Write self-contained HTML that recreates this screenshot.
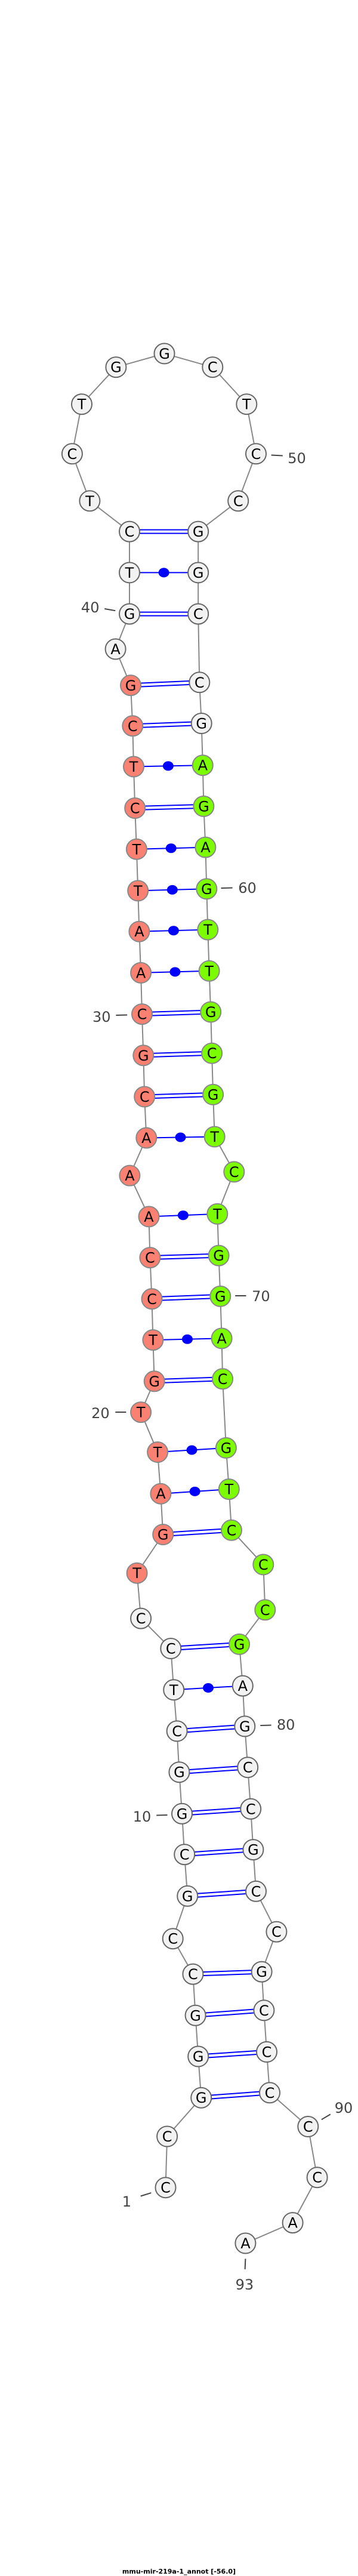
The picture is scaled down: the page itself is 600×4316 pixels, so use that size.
<!DOCTYPE html>
<html><head><meta charset="utf-8">
<style>
html,body{margin:0;padding:0;background:#fff;}
svg{display:block;}
.w{fill:#f2f2f2;stroke:#666;stroke-width:2;}
.r{fill:#fa8072;stroke:#888;stroke-width:2;}
.g{fill:#7cfc00;stroke:#888;stroke-width:2;}
.n text{font-family:"DejaVu Sans","Liberation Sans",sans-serif;font-size:24px;text-anchor:middle;fill:#000;}
.lab{font-family:"DejaVu Sans","Liberation Sans",sans-serif;font-size:24px;fill:#444;text-anchor:middle;}
.tk{stroke:#444;stroke-width:2;}
.d1{stroke:#0000ff;stroke-width:8;}
.d2{stroke:#fff;stroke-width:4;}
.s{stroke:#0000ff;stroke-width:2;}
</style></head><body>
<svg width="600" height="4316" viewBox="0 0 600 4316" xmlns="http://www.w3.org/2000/svg">
<rect width="600" height="4316" fill="#fff"/>
<polyline fill="none" stroke="#888" stroke-width="2" points="277.5,3665.2 280.1,3579.5 337.2,3514.7 332.2,3445.5 327.6,3376.8 323.4,3307.6 289.7,3248.2 314.2,3176.8 309.2,3107.1 305,3038.8 300.4,2969.2 296.6,2900.4 291.2,2831.3 286.3,2762 236.1,2711.6 229.6,2635.7 273.2,2571 269.4,2502.7 264.1,2433 236.1,2366.1 258.7,2314.3 256.4,2245.1 254.5,2176.3 251.4,2107.1 249.5,2038.4 217.4,1969.6 245.3,1906.5 242.2,1837.5 240.3,1768.3 238,1699.1 236.1,1629.9 233.4,1560.7 231.2,1492.4 228.9,1422.8 226.2,1354 224,1284.5 222.3,1216.3 219,1148.3 193.6,1087.5 217,1028.6 217,959.4 217,890.6 150.4,839.3 120.9,760.3 137,677.2 194.4,615.2 275.5,592.4 356.3,615.2 413.3,677.2 429,760.3 399.2,839.3 332.2,890.6 332.2,959.4 332.2,1028.6 334.3,1143.3 337.7,1212 339.8,1282.2 341.4,1350.9 344.4,1419.6 346.3,1489.3 348.3,1557.6 350.6,1626.8 353.2,1695.5 355.1,1764.7 357.1,1833.9 359.7,1904.5 392.3,1963.4 364.3,2033.9 366.6,2103.6 369.3,2171.9 371.6,2242.4 373.1,2310.3 378.9,2425.9 383.8,2495.1 388,2563.8 441.3,2621.4 444.3,2697.3 401.1,2754.9 406.8,2824.6 410.3,2892.4 415.2,2961.2 420.2,3030.8 424.4,3099.1 429,3168.8 463.4,3236.6 438.6,3303.6 442.4,3368.3 447,3437.9 452,3506.3 516.3,3563 531.6,3648.2 490.6,3724.1 411.4,3758.5"/>
<!-- double pairs -->
<g class="d1">
<line x1="217" y1="890.6" x2="332.2" y2="890.6"/>
<line x1="217" y1="1028.6" x2="332.2" y2="1028.6"/>
<line x1="219" y1="1148.3" x2="334.3" y2="1143.3"/>
<line x1="222.3" y1="1216.3" x2="337.7" y2="1212"/>
<line x1="226.2" y1="1354" x2="341.4" y2="1350.9"/>
<line x1="238" y1="1699.1" x2="353.2" y2="1695.5"/>
<line x1="240.3" y1="1768.3" x2="355.1" y2="1764.7"/>
<line x1="242.2" y1="1837.5" x2="357.1" y2="1833.9"/>
<line x1="251.4" y1="2107.1" x2="366.6" y2="2103.6"/>
<line x1="254.5" y1="2176.3" x2="369.3" y2="2171.9"/>
<line x1="258.7" y1="2314.3" x2="373.1" y2="2310.3"/>
<line x1="273.2" y1="2571" x2="388" y2="2563.8"/>
<line x1="286.3" y1="2762" x2="401.1" y2="2754.9"/>
<line x1="296.6" y1="2900.4" x2="410.3" y2="2892.4"/>
<line x1="300.4" y1="2969.2" x2="415.2" y2="2961.2"/>
<line x1="305" y1="3038.8" x2="420.2" y2="3030.8"/>
<line x1="309.2" y1="3107.1" x2="424.4" y2="3099.1"/>
<line x1="314.2" y1="3176.8" x2="429" y2="3168.8"/>
<line x1="323.4" y1="3307.6" x2="438.6" y2="3303.6"/>
<line x1="327.6" y1="3376.8" x2="442.4" y2="3368.3"/>
<line x1="332.2" y1="3445.5" x2="447" y2="3437.9"/>
<line x1="337.2" y1="3514.7" x2="452" y2="3506.3"/>
</g>
<g class="d2">
<line x1="217" y1="890.6" x2="332.2" y2="890.6"/>
<line x1="217" y1="1028.6" x2="332.2" y2="1028.6"/>
<line x1="219" y1="1148.3" x2="334.3" y2="1143.3"/>
<line x1="222.3" y1="1216.3" x2="337.7" y2="1212"/>
<line x1="226.2" y1="1354" x2="341.4" y2="1350.9"/>
<line x1="238" y1="1699.1" x2="353.2" y2="1695.5"/>
<line x1="240.3" y1="1768.3" x2="355.1" y2="1764.7"/>
<line x1="242.2" y1="1837.5" x2="357.1" y2="1833.9"/>
<line x1="251.4" y1="2107.1" x2="366.6" y2="2103.6"/>
<line x1="254.5" y1="2176.3" x2="369.3" y2="2171.9"/>
<line x1="258.7" y1="2314.3" x2="373.1" y2="2310.3"/>
<line x1="273.2" y1="2571" x2="388" y2="2563.8"/>
<line x1="286.3" y1="2762" x2="401.1" y2="2754.9"/>
<line x1="296.6" y1="2900.4" x2="410.3" y2="2892.4"/>
<line x1="300.4" y1="2969.2" x2="415.2" y2="2961.2"/>
<line x1="305" y1="3038.8" x2="420.2" y2="3030.8"/>
<line x1="309.2" y1="3107.1" x2="424.4" y2="3099.1"/>
<line x1="314.2" y1="3176.8" x2="429" y2="3168.8"/>
<line x1="323.4" y1="3307.6" x2="438.6" y2="3303.6"/>
<line x1="327.6" y1="3376.8" x2="442.4" y2="3368.3"/>
<line x1="332.2" y1="3445.5" x2="447" y2="3437.9"/>
<line x1="337.2" y1="3514.7" x2="452" y2="3506.3"/>
</g>
<!-- dot pairs -->
<g class="s">
<line x1="217" y1="959.4" x2="332.2" y2="959.4"/>
<line x1="224" y1="1284.5" x2="339.8" y2="1282.2"/>
<line x1="228.9" y1="1422.8" x2="344.4" y2="1419.6"/>
<line x1="231.2" y1="1492.4" x2="346.3" y2="1489.3"/>
<line x1="233.4" y1="1560.7" x2="348.3" y2="1557.6"/>
<line x1="236.1" y1="1629.9" x2="350.6" y2="1626.8"/>
<line x1="245.3" y1="1906.5" x2="359.7" y2="1904.5"/>
<line x1="249.5" y1="2038.4" x2="364.3" y2="2033.9"/>
<line x1="256.4" y1="2245.1" x2="371.6" y2="2242.4"/>
<line x1="264.1" y1="2433" x2="378.9" y2="2425.9"/>
<line x1="269.4" y1="2502.7" x2="383.8" y2="2495.1"/>
<line x1="291.2" y1="2831.3" x2="406.8" y2="2824.6"/>
</g>
<g fill="#0000ff">
<ellipse cx="274.6" cy="959.4" rx="9" ry="8"/>
<ellipse cx="281.9" cy="1283.4" rx="9" ry="8"/>
<ellipse cx="286.7" cy="1421.2" rx="9" ry="8"/>
<ellipse cx="288.8" cy="1490.9" rx="9" ry="8"/>
<ellipse cx="290.9" cy="1559.2" rx="9" ry="8"/>
<ellipse cx="293.4" cy="1628.4" rx="9" ry="8"/>
<ellipse cx="302.5" cy="1905.5" rx="9" ry="8"/>
<ellipse cx="306.9" cy="2036.2" rx="9" ry="8"/>
<ellipse cx="314" cy="2243.8" rx="9" ry="8"/>
<ellipse cx="321.5" cy="2429.5" rx="9" ry="8"/>
<ellipse cx="326.6" cy="2498.9" rx="9" ry="8"/>
<ellipse cx="349" cy="2828" rx="9" ry="8"/>
</g>
<!-- nodes -->
<g class="n">
<g transform="translate(277.5,3665.2)"><circle class="w" r="17"/><text y="8.5">C</text></g>
<g transform="translate(280.1,3579.5)"><circle class="w" r="17"/><text y="8.5">C</text></g>
<g transform="translate(337.2,3514.7)"><circle class="w" r="17"/><text y="8.5">G</text></g>
<g transform="translate(332.2,3445.5)"><circle class="w" r="17"/><text y="8.5">G</text></g>
<g transform="translate(327.6,3376.8)"><circle class="w" r="17"/><text y="8.5">G</text></g>
<g transform="translate(323.4,3307.6)"><circle class="w" r="17"/><text y="8.5">C</text></g>
<g transform="translate(289.7,3248.2)"><circle class="w" r="17"/><text y="8.5">C</text></g>
<g transform="translate(314.2,3176.8)"><circle class="w" r="17"/><text y="8.5">G</text></g>
<g transform="translate(309.2,3107.1)"><circle class="w" r="17"/><text y="8.5">C</text></g>
<g transform="translate(305,3038.8)"><circle class="w" r="17"/><text y="8.5">G</text></g>
<g transform="translate(300.4,2969.2)"><circle class="w" r="17"/><text y="8.5">G</text></g>
<g transform="translate(296.6,2900.4)"><circle class="w" r="17"/><text y="8.5">C</text></g>
<g transform="translate(291.2,2831.3)"><circle class="w" r="17"/><text y="8.5">T</text></g>
<g transform="translate(286.3,2762)"><circle class="w" r="17"/><text y="8.5">C</text></g>
<g transform="translate(236.1,2711.6)"><circle class="w" r="17"/><text y="8.5">C</text></g>
<g transform="translate(229.6,2635.7)"><circle class="r" r="17"/><text y="8.5">T</text></g>
<g transform="translate(273.2,2571)"><circle class="r" r="17"/><text y="8.5">G</text></g>
<g transform="translate(269.4,2502.7)"><circle class="r" r="17"/><text y="8.5">A</text></g>
<g transform="translate(264.1,2433)"><circle class="r" r="17"/><text y="8.5">T</text></g>
<g transform="translate(236.1,2366.1)"><circle class="r" r="17"/><text y="8.5">T</text></g>
<g transform="translate(258.7,2314.3)"><circle class="r" r="17"/><text y="8.5">G</text></g>
<g transform="translate(256.4,2245.1)"><circle class="r" r="17"/><text y="8.5">T</text></g>
<g transform="translate(254.5,2176.3)"><circle class="r" r="17"/><text y="8.5">C</text></g>
<g transform="translate(251.4,2107.1)"><circle class="r" r="17"/><text y="8.5">C</text></g>
<g transform="translate(249.5,2038.4)"><circle class="r" r="17"/><text y="8.5">A</text></g>
<g transform="translate(217.4,1969.6)"><circle class="r" r="17"/><text y="8.5">A</text></g>
<g transform="translate(245.3,1906.5)"><circle class="r" r="17"/><text y="8.5">A</text></g>
<g transform="translate(242.2,1837.5)"><circle class="r" r="17"/><text y="8.5">C</text></g>
<g transform="translate(240.3,1768.3)"><circle class="r" r="17"/><text y="8.5">G</text></g>
<g transform="translate(238,1699.1)"><circle class="r" r="17"/><text y="8.5">C</text></g>
<g transform="translate(236.1,1629.9)"><circle class="r" r="17"/><text y="8.5">A</text></g>
<g transform="translate(233.4,1560.7)"><circle class="r" r="17"/><text y="8.5">A</text></g>
<g transform="translate(231.2,1492.4)"><circle class="r" r="17"/><text y="8.5">T</text></g>
<g transform="translate(228.9,1422.8)"><circle class="r" r="17"/><text y="8.5">T</text></g>
<g transform="translate(226.2,1354)"><circle class="r" r="17"/><text y="8.5">C</text></g>
<g transform="translate(224,1284.5)"><circle class="r" r="17"/><text y="8.5">T</text></g>
<g transform="translate(222.3,1216.3)"><circle class="r" r="17"/><text y="8.5">C</text></g>
<g transform="translate(219,1148.3)"><circle class="r" r="17"/><text y="8.5">G</text></g>
<g transform="translate(193.6,1087.5)"><circle class="w" r="17"/><text y="8.5">A</text></g>
<g transform="translate(217,1028.6)"><circle class="w" r="17"/><text y="8.5">G</text></g>
<g transform="translate(217,959.4)"><circle class="w" r="17"/><text y="8.5">T</text></g>
<g transform="translate(217,890.6)"><circle class="w" r="17"/><text y="8.5">C</text></g>
<g transform="translate(150.4,839.3)"><circle class="w" r="17"/><text y="8.5">T</text></g>
<g transform="translate(120.9,760.3)"><circle class="w" r="17"/><text y="8.5">C</text></g>
<g transform="translate(137,677.2)"><circle class="w" r="17"/><text y="8.5">T</text></g>
<g transform="translate(194.4,615.2)"><circle class="w" r="17"/><text y="8.5">G</text></g>
<g transform="translate(275.5,592.4)"><circle class="w" r="17"/><text y="8.5">G</text></g>
<g transform="translate(356.3,615.2)"><circle class="w" r="17"/><text y="8.5">C</text></g>
<g transform="translate(413.3,677.2)"><circle class="w" r="17"/><text y="8.5">T</text></g>
<g transform="translate(429,760.3)"><circle class="w" r="17"/><text y="8.5">C</text></g>
<g transform="translate(399.2,839.3)"><circle class="w" r="17"/><text y="8.5">C</text></g>
<g transform="translate(332.2,890.6)"><circle class="w" r="17"/><text y="8.5">G</text></g>
<g transform="translate(332.2,959.4)"><circle class="w" r="17"/><text y="8.5">G</text></g>
<g transform="translate(332.2,1028.6)"><circle class="w" r="17"/><text y="8.5">C</text></g>
<g transform="translate(334.3,1143.3)"><circle class="w" r="17"/><text y="8.5">C</text></g>
<g transform="translate(337.7,1212)"><circle class="w" r="17"/><text y="8.5">G</text></g>
<g transform="translate(339.8,1282.2)"><circle class="g" r="17"/><text y="8.5">A</text></g>
<g transform="translate(341.4,1350.9)"><circle class="g" r="17"/><text y="8.5">G</text></g>
<g transform="translate(344.4,1419.6)"><circle class="g" r="17"/><text y="8.5">A</text></g>
<g transform="translate(346.3,1489.3)"><circle class="g" r="17"/><text y="8.5">G</text></g>
<g transform="translate(348.3,1557.6)"><circle class="g" r="17"/><text y="8.5">T</text></g>
<g transform="translate(350.6,1626.8)"><circle class="g" r="17"/><text y="8.5">T</text></g>
<g transform="translate(353.2,1695.5)"><circle class="g" r="17"/><text y="8.5">G</text></g>
<g transform="translate(355.1,1764.7)"><circle class="g" r="17"/><text y="8.5">C</text></g>
<g transform="translate(357.1,1833.9)"><circle class="g" r="17"/><text y="8.5">G</text></g>
<g transform="translate(359.7,1904.5)"><circle class="g" r="17"/><text y="8.5">T</text></g>
<g transform="translate(392.3,1963.4)"><circle class="g" r="17"/><text y="8.5">C</text></g>
<g transform="translate(364.3,2033.9)"><circle class="g" r="17"/><text y="8.5">T</text></g>
<g transform="translate(366.6,2103.6)"><circle class="g" r="17"/><text y="8.5">G</text></g>
<g transform="translate(369.3,2171.9)"><circle class="g" r="17"/><text y="8.5">G</text></g>
<g transform="translate(371.6,2242.4)"><circle class="g" r="17"/><text y="8.5">A</text></g>
<g transform="translate(373.1,2310.3)"><circle class="g" r="17"/><text y="8.5">C</text></g>
<g transform="translate(378.9,2425.9)"><circle class="g" r="17"/><text y="8.5">G</text></g>
<g transform="translate(383.8,2495.1)"><circle class="g" r="17"/><text y="8.5">T</text></g>
<g transform="translate(388,2563.8)"><circle class="g" r="17"/><text y="8.5">C</text></g>
<g transform="translate(441.3,2621.4)"><circle class="g" r="17"/><text y="8.5">C</text></g>
<g transform="translate(444.3,2697.3)"><circle class="g" r="17"/><text y="8.5">C</text></g>
<g transform="translate(401.1,2754.9)"><circle class="g" r="17"/><text y="8.5">G</text></g>
<g transform="translate(406.8,2824.6)"><circle class="w" r="17"/><text y="8.5">A</text></g>
<g transform="translate(410.3,2892.4)"><circle class="w" r="17"/><text y="8.5">G</text></g>
<g transform="translate(415.2,2961.2)"><circle class="w" r="17"/><text y="8.5">C</text></g>
<g transform="translate(420.2,3030.8)"><circle class="w" r="17"/><text y="8.5">C</text></g>
<g transform="translate(424.4,3099.1)"><circle class="w" r="17"/><text y="8.5">G</text></g>
<g transform="translate(429,3168.8)"><circle class="w" r="17"/><text y="8.5">C</text></g>
<g transform="translate(463.4,3236.6)"><circle class="w" r="17"/><text y="8.5">C</text></g>
<g transform="translate(438.6,3303.6)"><circle class="w" r="17"/><text y="8.5">G</text></g>
<g transform="translate(442.4,3368.3)"><circle class="w" r="17"/><text y="8.5">C</text></g>
<g transform="translate(447,3437.9)"><circle class="w" r="17"/><text y="8.5">C</text></g>
<g transform="translate(452,3506.3)"><circle class="w" r="17"/><text y="8.5">C</text></g>
<g transform="translate(516.3,3563)"><circle class="w" r="17"/><text y="8.5">C</text></g>
<g transform="translate(531.6,3648.2)"><circle class="w" r="17"/><text y="8.5">C</text></g>
<g transform="translate(490.6,3724.1)"><circle class="w" r="17"/><text y="8.5">A</text></g>
<g transform="translate(411.4,3758.5)"><circle class="w" r="17"/><text y="8.5">A</text></g>
</g>
<!-- labels -->
<g class="tk">
<line x1="454.6" y1="762.5" x2="473.8" y2="763.5"/>
<line x1="175.3" y1="1020" x2="193.3" y2="1023.2"/>
<line x1="370.5" y1="1488" x2="389.6" y2="1487.5"/>
<line x1="194.4" y1="1701" x2="213.2" y2="1700.5"/>
<line x1="394.2" y1="2171" x2="412.5" y2="2171"/>
<line x1="193.3" y1="2366" x2="211.3" y2="2366"/>
<line x1="436.3" y1="2891" x2="454.6" y2="2890.5"/>
<line x1="262.2" y1="3041.5" x2="280.5" y2="3041"/>
<line x1="235.7" y1="3679.5" x2="253.3" y2="3674.1"/>
<line x1="538.8" y1="3551.3" x2="553.8" y2="3542.4"/>
<line x1="411.4" y1="3784.4" x2="410.6" y2="3802.2"/>
</g>
<g class="lab">
<text x="497.5" y="776">50</text>
<text x="151.2" y="1026">40</text>
<text x="414.5" y="1496">60</text>
<text x="170.3" y="1712">30</text>
<text x="437.4" y="2180">70</text>
<text x="168.4" y="2376">20</text>
<text x="479.1" y="2898">80</text>
<text x="238" y="3052">10</text>
<text x="212.4" y="3697">1</text>
<text x="576" y="3540">90</text>
<text x="409.9" y="3836">93</text>
</g>
<text x="300" y="4312" font-family="'DejaVu Sans','Liberation Sans',sans-serif" font-size="11" font-weight="bold" text-anchor="middle" fill="#000">mmu-mir-219a-1_annot [-56.0]</text>
</svg>
</body></html>
